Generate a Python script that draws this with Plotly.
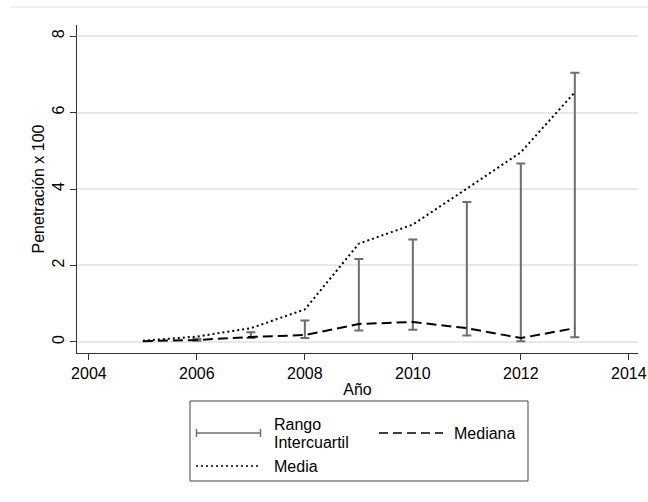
import plotly.graph_objects as go

# Penetración por año (x 100)
anios = [2005, 2006, 2007, 2008, 2009, 2010, 2011, 2012, 2013]
media = [0.03, 0.14, 0.36, 0.85, 2.57, 3.07, 4.01, 4.96, 6.53]
mediana = [0.02, 0.05, 0.13, 0.18, 0.47, 0.52, 0.36, 0.10, 0.36]
p25 = [None, 0.03, 0.10, 0.10, 0.30, 0.32, 0.17, 0.02, 0.12]
p75 = [None, 0.08, 0.25, 0.56, 2.17, 2.68, 3.66, 4.67, 7.04]

x_ticks = [2004, 2006, 2008, 2010, 2012, 2014]
y_ticks = [0, 2, 4, 6, 8]

FONT = "Liberation Sans, Arial, sans-serif"
W, H = 648, 502
L, R, T, B = 77, 10, 25, 149
IQR_COLOR = "#6e6e6e"

# Intercuartil as symmetric error bars around the midpoint
centro = [None if a is None else (a + b) / 2 for a, b in zip(p25, p75)]
semi = [None if a is None else (b - a) / 2 for a, b in zip(p25, p75)]

fig = go.Figure()
fig.add_trace(go.Scatter(
    x=anios, y=centro, mode="markers",
    marker=dict(size=1, opacity=0),
    error_y=dict(type="data", array=semi, symmetric=True,
                 color=IQR_COLOR, thickness=2, width=4.5),
    showlegend=False, hoverinfo="skip",
))
fig.add_trace(go.Scatter(
    x=anios, y=mediana, mode="lines",
    line=dict(color="black", width=2, dash="10px,5px"),
    showlegend=False,
))
fig.add_trace(go.Scatter(
    x=anios, y=media, mode="lines",
    line=dict(color="black", width=2, dash="2px,3px"),
    showlegend=False,
))

# pixel -> paper helpers for the hand-built legend
pw, ph = W - L - R, H - T - B
def px(x):
    return (x - L) / pw
def py(y):
    return (H - B - y) / ph

shapes = [
    # faint outer frame line at the top
    dict(type="line", xref="paper", yref="paper", x0=px(10), x1=px(648),
         y0=py(7), y1=py(7), line=dict(color="#ececec", width=1.5)),
    # legend box
    dict(type="rect", xref="paper", yref="paper", x0=px(190), x1=px(528),
         y0=py(481), y1=py(401), line=dict(color="#444444", width=1),
         fillcolor="white"),
    # IQR symbol
    dict(type="line", xref="paper", yref="paper", x0=px(196), x1=px(261),
         y0=py(433), y1=py(433), line=dict(color=IQR_COLOR, width=1.5)),
    dict(type="line", xref="paper", yref="paper", x0=px(196.5), x1=px(196.5),
         y0=py(429), y1=py(437), line=dict(color=IQR_COLOR, width=1.5)),
    dict(type="line", xref="paper", yref="paper", x0=px(260.5), x1=px(260.5),
         y0=py(429), y1=py(437), line=dict(color=IQR_COLOR, width=1.5)),
    # Mediana symbol
    dict(type="line", xref="paper", yref="paper", x0=px(379), x1=px(443),
         y0=py(433), y1=py(433), line=dict(color="black", width=1.5, dash="9px,5px")),
    # Media symbol
    dict(type="line", xref="paper", yref="paper", x0=px(196), x1=px(261),
         y0=py(466), y1=py(466), line=dict(color="black", width=1.5, dash="2px,3px")),
]

def legend_text(text, x, y):
    return dict(text=text, xref="paper", yref="paper", x=px(x), y=py(y),
                xanchor="left", yanchor="middle", showarrow=False,
                font=dict(family=FONT, size=16, color="black"))

annotations = [
    legend_text("Rango", 272, 424),
    legend_text("Intercuartil", 272, 442),
    legend_text("Mediana", 452, 433),
    legend_text("Media", 272, 466),
]

fig.update_layout(
    width=W, height=H,
    margin=dict(l=L, r=R, t=T, b=B, pad=0),
    paper_bgcolor="white", plot_bgcolor="white",
    font=dict(family=FONT, size=16, color="black"),
    shapes=shapes, annotations=annotations,
    xaxis=dict(
        range=[2003.78, 2014.17], tickvals=x_ticks, ticktext=[str(v) for v in x_ticks],
        ticklabeloverflow="allow", automargin=False,
        showgrid=False, zeroline=False, showline=True, linecolor="#333333", linewidth=1,
        ticks="outside", ticklen=6, tickcolor="#333333", tickwidth=1,
        tickfont=dict(family=FONT, size=16),
        title=dict(text="Año", standoff=2, font=dict(family=FONT, size=16)),
    ),
    yaxis=dict(
        range=[-0.29, 8.29], tickvals=y_ticks, ticktext=[str(v) for v in y_ticks],
        tickangle=-90, automargin=False,
        showgrid=True, gridcolor="#e8e8e8", gridwidth=1.5, zeroline=False,
        showline=True, linecolor="#333333", linewidth=1,
        ticks="outside", ticklen=6, tickcolor="#333333", tickwidth=1,
        tickfont=dict(family=FONT, size=16),
        title=dict(text="Penetración x 100", standoff=0, font=dict(family=FONT, size=16)),
    ),
)

fig.write_html("out.html")
